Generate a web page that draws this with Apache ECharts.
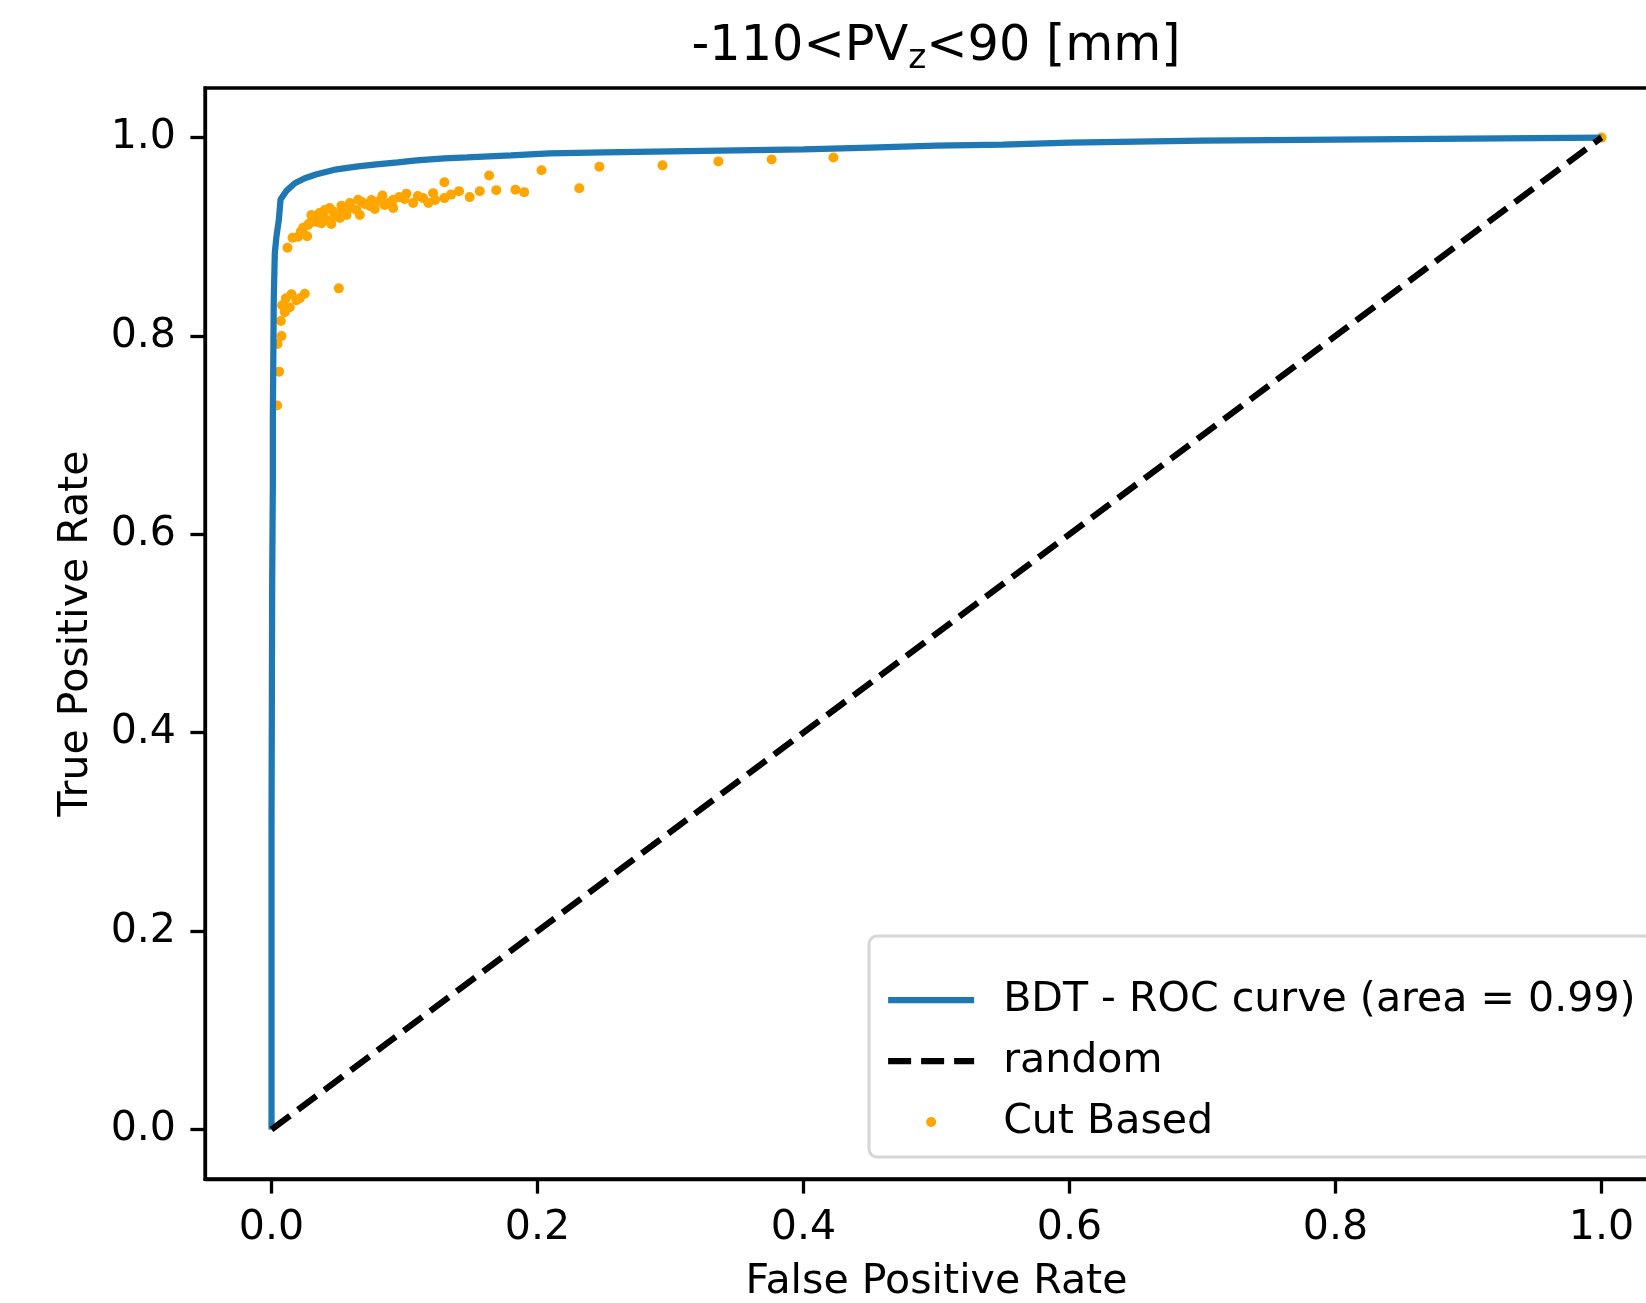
<!DOCTYPE html>
<html>
<head>
<meta charset="utf-8">
<title>ROC</title>
<script src="https://cdn.jsdelivr.net/npm/echarts@6/dist/echarts.min.js"></script>
<style>
  html, body { margin: 0; padding: 0; background: #fff; }
  #main { width: 1646px; height: 1303px; }
</style>
</head>
<body>
<div id="main"></div>
<script>
// BDT ROC curve
var rocFpr = [0, 0, 0.0005, 0.001, 0.001, 0.0017, 0.0025, 0.0037, 0.0055, 0.0068, 0.011, 0.0175, 0.025, 0.034, 0.049, 0.065, 0.079, 0.095, 0.109, 0.13, 0.147, 0.18, 0.209, 0.25, 0.3, 0.35, 0.4, 0.45, 0.5, 0.55, 0.6, 0.65, 0.7, 0.8, 0.9, 1.0];
var rocTpr = [0, 0.3, 0.55, 0.65, 0.715, 0.837, 0.884, 0.9, 0.917, 0.9375, 0.946, 0.954, 0.959, 0.963, 0.968, 0.971, 0.973, 0.975, 0.977, 0.979, 0.98, 0.982, 0.984, 0.985, 0.986, 0.987, 0.988, 0.99, 0.992, 0.993, 0.995, 0.996, 0.997, 0.998, 0.999, 1.0];

// cut based working points
var cutFpr = [0.0042, 0.0057, 0.0045, 0.0075, 0.007, 0.01, 0.008, 0.0137, 0.0108, 0.015, 0.0188, 0.0213, 0.025, 0.0506,
  0.012, 0.0158, 0.02, 0.0268, 0.0238, 0.0275, 0.031, 0.034, 0.0388, 0.045, 0.0376, 0.0438, 0.0463, 0.0514, 0.0526,
  0.0589, 0.0564, 0.0651, 0.0664, 0.0639, 0.0752, 0.0834, 0.0777, 0.0915, 0.0915, 0.1015, 0.1065, 0.114, 0.118,
  0.1215, 0.123, 0.13, 0.13, 0.135, 0.141, 0.149, 0.1566, 0.1636, 0.169, 0.1834, 0.19, 0.203, 0.2314, 0.2465,
  0.294, 0.336, 0.376, 0.4225, 1.0,
  0.03, 0.036, 0.042, 0.048, 0.055, 0.06, 0.07, 0.085, 0.096, 0.11,
  0.022, 0.029, 0.04, 0.052, 0.058, 0.068, 0.074, 0.081, 0.088, 0.1];
var cutTpr = [0.73, 0.764, 0.792, 0.8, 0.815, 0.824, 0.831, 0.829, 0.838, 0.842, 0.836, 0.838, 0.8425, 0.848,
  0.889, 0.899, 0.9, 0.9005, 0.909, 0.912, 0.917, 0.915, 0.9206, 0.913, 0.9136, 0.929, 0.9256, 0.919, 0.9314,
  0.934, 0.922, 0.9374, 0.922, 0.927, 0.937, 0.9415, 0.928, 0.9374, 0.929, 0.9435, 0.934, 0.939, 0.934,
  0.944, 0.937, 0.955, 0.939, 0.9425, 0.946, 0.94, 0.946, 0.9617, 0.947, 0.9475, 0.945, 0.967, 0.949, 0.9706,
  0.972, 0.976, 0.978, 0.98, 1.0,
  0.922, 0.924, 0.917, 0.921, 0.926, 0.929, 0.933, 0.932, 0.94, 0.941,
  0.905, 0.914, 0.927, 0.924, 0.93, 0.935, 0.931, 0.936, 0.934, 0.938];

var randomX = [0, 1];
var randomY = [0, 1];

var tickValues = [0, 0.2, 0.4, 0.6, 0.8, 1.0];

var FONT = "'DejaVu Sans', sans-serif";
var FS = 41.1;

function pairs(xs, ys) {
  var out = [];
  for (var i = 0; i < xs.length; i++) {
    out.push([xs[i], ys[i]]);
  }
  return out;
}

function axisCommon() {
  return {
    type: 'value',
    min: -0.05,
    max: 1.05,
    splitLine: { show: false },
    axisLine: { show: true, onZero: false, lineStyle: { color: '#000', width: 3.3 } },
    axisTick: {
      show: true, inside: false, length: 14.6, customValues: tickValues,
      lineStyle: { color: '#000', width: 3.3 }
    },
    axisLabel: {
      customValues: tickValues, margin: 29, color: '#000',
      fontFamily: FONT, fontSize: FS,
      formatter: function (v) { return v.toFixed(1); }
    },
    nameLocation: 'middle',
    nameTextStyle: { fontFamily: FONT, fontSize: FS, color: '#000' }
  };
}

var chart = echarts.init(document.getElementById('main'), null, { renderer: 'canvas' });

var xAxis = axisCommon();
xAxis.name = 'False Positive Rate';
xAxis.nameGap = 83;

var yAxis = axisCommon();
yAxis.name = 'True Positive Rate';
yAxis.nameGap = 108;
yAxis.nameRotate = 90;

var option = {
  animation: false,
  backgroundColor: '#fff',
  title: {
    text: '{a|-110<PV}{b|z}{a|<90 [mm]}',
    left: 936,
    top: 17,
    textAlign: 'center',
    padding: 0,
    textStyle: {
      fontFamily: FONT, fontSize: 49.3, fontWeight: 'normal', color: '#000',
      rich: {
        a: { fontFamily: FONT, fontSize: 49.3, color: '#000', lineHeight: 60 },
        b: { fontFamily: FONT, fontSize: 34.5, color: '#000', lineHeight: 32, verticalAlign: 'bottom' }
      }
    }
  },
  grid: {
    left: 205,
    top: 88,
    right: -22,
    bottom: 124,
    containLabel: false,
    outerBoundsMode: 'none',
    show: true,
    borderColor: '#000',
    borderWidth: 3.3,
    backgroundColor: 'transparent'
  },
  legend: {
    orient: 'vertical',
    left: 869,
    top: 936,
    padding: [39, 17, 10, 16],
    itemWidth: 86,
    itemHeight: 10,
    itemGap: 11,
    backgroundColor: 'rgba(255,255,255,0.8)',
    borderColor: '#d6d6d6',
    borderWidth: 3,
    borderRadius: 8,
    lineStyle: { width: 6.25 },
    textStyle: {
      fontFamily: FONT, fontSize: FS, color: '#000', lineHeight: 50,
      padding: [0, 0, 0, 24]
    },
    data: [
      { name: 'BDT - ROC curve (area = 0.99)', itemStyle: { opacity: 0 }, lineStyle: { width: 6.25 } },
      { name: 'random', itemStyle: { opacity: 0 }, lineStyle: { width: 6.25 } },
      { name: 'Cut Based', itemStyle: { opacity: 1 } }
    ]
  },
  xAxis: xAxis,
  yAxis: yAxis,
  series: [
    {
      name: 'Cut Based',
      type: 'scatter',
      symbol: 'circle',
      symbolSize: 10,
      itemStyle: { color: '#ffa500', opacity: 1 },
      z: 1,
      data: pairs(cutFpr, cutTpr)
    },
    {
      name: 'BDT - ROC curve (area = 0.99)',
      type: 'line',
      showSymbol: false,
      symbol: 'none',
      lineStyle: { color: '#1f77b4', width: 6.25 },
      itemStyle: { color: '#1f77b4' },
      z: 2,
      data: pairs(rocFpr, rocTpr)
    },
    {
      name: 'random',
      type: 'line',
      showSymbol: false,
      symbol: 'none',
      lineStyle: { color: '#000', width: 6.25, type: [23, 10], cap: 'butt' },
      itemStyle: { color: '#000' },
      z: 3,
      data: pairs(randomX, randomY)
    }
  ]
};

chart.setOption(option);
</script>
</body>
</html>
